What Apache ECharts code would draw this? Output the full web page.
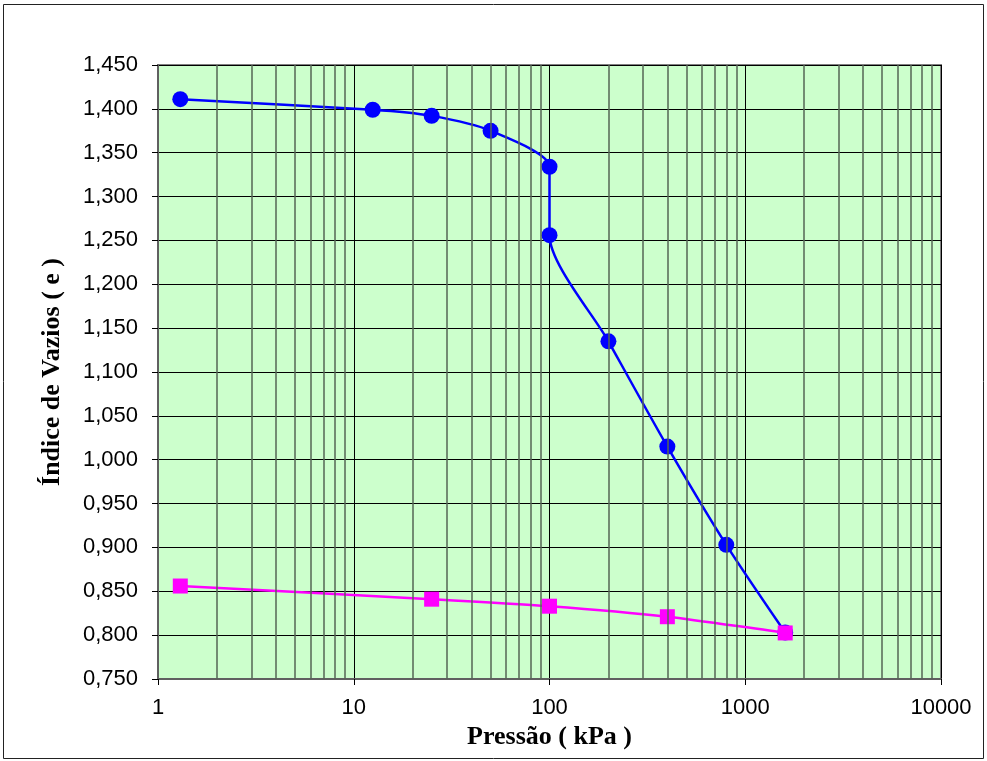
<!DOCTYPE html>
<html><head><meta charset="utf-8">
<script src="https://cdn.jsdelivr.net/npm/echarts@6/dist/echarts.min.js"></script>
<style>html,body{margin:0;padding:0;background:#fff}#c{width:987px;height:761px}</style>
</head><body><div id="c"></div>
<script>
const pressureLoad = [1.3, 12.5, 25, 50, 100, 100, 200, 400, 800, 1600];
const voidLoad     = [1.411, 1.399, 1.392, 1.375, 1.334, 1.256, 1.135, 1.015, 0.903, 0.803];
const pressureUnload = [1.3, 25, 100, 400, 1600];
const voidUnload     = [0.856, 0.841, 0.833, 0.821, 0.8025];
const minorX = [2,3,4,5,6,7,8,9,20,30,40,50,60,70,80,90,200,300,400,500,600,700,800,900,2000,3000,4000,5000,6000,7000,8000,9000];
const xTitle = 'Pressão ( kPa )';
const yTitle = 'Índice de Vazios ( e )';

const chart = echarts.init(document.getElementById('c'), null, {renderer:'canvas'});
chart.setOption({
  animation:false,
  backgroundColor:'#fff',
  graphic:[{type:'rect', shape:{x:3.5,y:4.5,width:980,height:754}, style:{fill:'none', stroke:'#222', lineWidth:1}, z:-1}],
  grid:{left:158, right:46, top:65, bottom:82, show:true, backgroundColor:'#CCFFCC', borderColor:'#808080', borderWidth:2},
  xAxis:{type:'log', logBase:10, min:1, max:10000,
    name:xTitle, nameLocation:'middle', nameGap:38,
    nameTextStyle:{fontFamily:'Liberation Serif', fontWeight:'bold', fontSize:26, color:'#000', verticalAlign:'top'},
    axisLine:{show:true, lineStyle:{color:'#606060', width:2}},
    axisTick:{show:true, inside:false, length:6, lineStyle:{color:'#000'}},
    axisLabel:{fontFamily:'Liberation Sans', fontSize:22, color:'#000', margin:18, formatter:v=>String(Math.round(v))},
    splitLine:{show:true, lineStyle:{color:'#000', width:1}}
  },
  yAxis:{type:'value', min:0.75, max:1.45, interval:0.05,
    name:yTitle, nameLocation:'middle', nameGap:93,
    nameTextStyle:{fontFamily:'Liberation Serif', fontWeight:'bold', fontSize:26, color:'#000'},
    axisLine:{show:true, lineStyle:{color:'#606060', width:2}},
    axisTick:{show:true, inside:false, length:6, lineStyle:{color:'#000'}},
    axisLabel:{fontFamily:'Liberation Sans', fontSize:22, color:'#000', margin:20, formatter:v=>v.toFixed(3).replace('.',',')},
    splitLine:{show:true, lineStyle:{color:'#000', width:1}}
  },
  series:[
    {type:'line', data:[], z:1, silent:true,
      markLine:{silent:true, symbol:['none','none'], label:{show:false},
        lineStyle:{color:'#556655', width:1.5, type:'solid'},
        data:minorX.map(v=>({xAxis:v}))}},
    {type:'line', name:'load', z:3, smooth:0.25,
      data:pressureLoad.map((p,i)=>[p, voidLoad[i]]),
      symbol:'circle', symbolSize:16,
      lineStyle:{color:'#0000FF', width:2.5},
      itemStyle:{color:'#0000FF'}},
    {type:'line', name:'unload', z:4, smooth:0.25,
      data:pressureUnload.map((p,i)=>[p, voidUnload[i]]),
      symbol:'rect', symbolSize:15,
      lineStyle:{color:'#FF00FF', width:2.5},
      itemStyle:{color:'#FF00FF'}}
  ]
});
</script></body></html>
